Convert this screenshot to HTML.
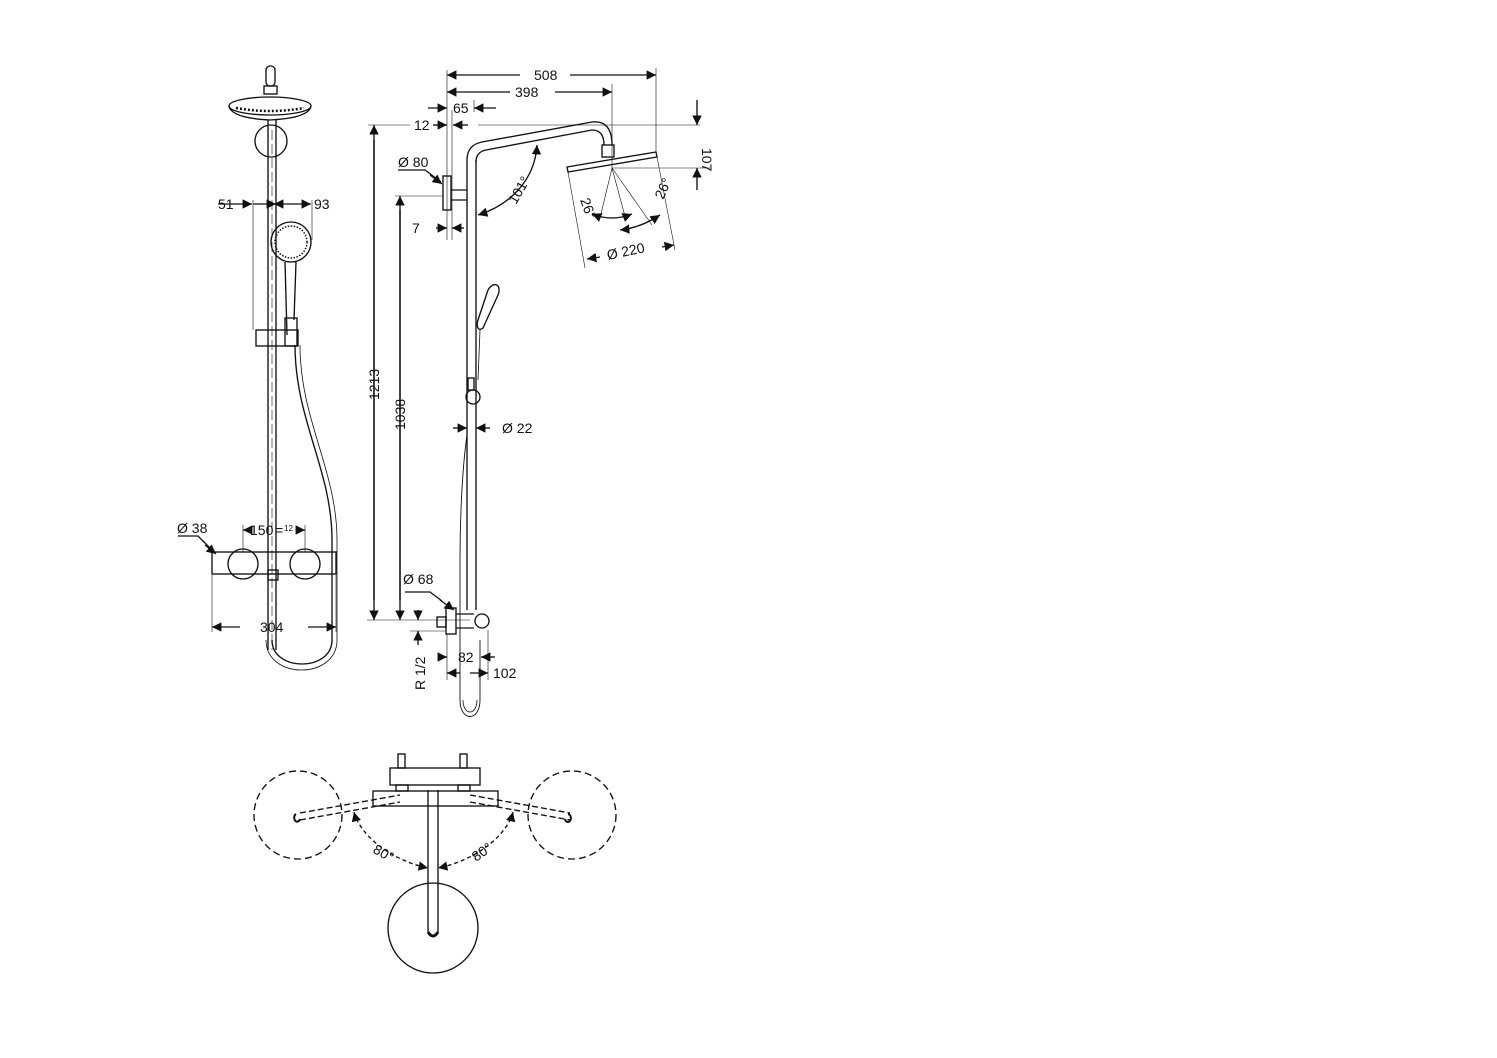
<!DOCTYPE html>
<html><head><meta charset="utf-8"><style>
html,body{margin:0;padding:0;background:#fff;}
svg{display:block}
text{font-family:"Liberation Sans",sans-serif;font-size:14px;fill:#111}
</style></head><body>
<svg width="1497" height="1058" viewBox="0 0 1497 1058" xmlns="http://www.w3.org/2000/svg">
<defs>
<marker id="a" viewBox="0 0 10 10" refX="10" refY="5" markerWidth="7" markerHeight="7" orient="auto-start-reverse"><path d="M0,0L10,5L0,10z" fill="#111"/></marker>
</defs>
<g fill="none" stroke="#111" stroke-width="1.35">
<!-- LEFT VIEW -->
<rect x="266" y="66" width="9" height="20" rx="4"/>
<rect x="264" y="86" width="13" height="8"/>
<ellipse cx="270" cy="106" rx="41" ry="9"/>
<path d="M229,106 Q231,118 270,120 Q309,118 311,106"/>
<path d="M236,108 Q270,114 304,108" stroke-dasharray="2 2" stroke-width="2.5"/>
<circle cx="271" cy="141" r="16"/>
<line x1="268" y1="120" x2="268" y2="650"/><line x1="276" y1="120" x2="276" y2="650"/>
<line x1="272" y1="130" x2="272" y2="650" stroke-dasharray="10 4" stroke-width="0.6"/>
<circle cx="291" cy="242" r="20"/><circle cx="291" cy="242" r="16" stroke-dasharray="1.5 1.5" stroke-width="1.5"/>
<path d="M285,262 L287,335 M296,262 L294,320"/>
<rect x="285" y="318" width="12" height="28"/>
<rect x="256" y="330" width="42" height="16"/>
<line x1="253" y1="200" x2="253" y2="330" stroke-width="0.6"/>
<line x1="312" y1="200" x2="312" y2="240" stroke-width="0.6"/>
<line x1="218" y1="204" x2="252" y2="204" marker-end="url(#a)"/>
<line x1="253" y1="204" x2="270" y2="204"/>
<line x1="274" y1="204" x2="276" y2="204" marker-end="url(#a)" marker-start="url(#a)"/>
<line x1="277" y1="204" x2="311" y2="204" marker-end="url(#a)"/>
<path d="M295,345 C295,420 332,470 332,540 L332,640 C332,672 272,672 272,640"/>
<path d="M300,345 C300,420 337,470 337,540 L337,640 C337,680 266,680 266,640" stroke-width="0.8"/>
<rect x="212" y="552" width="124" height="22"/>
<circle cx="243" cy="564" r="15"/><circle cx="305" cy="564" r="15"/>
<rect x="268" y="570" width="10" height="10"/>
<line x1="212" y1="575" x2="212" y2="632" stroke-width="0.6"/><line x1="336" y1="575" x2="336" y2="632" stroke-width="0.6"/>
<line x1="243" y1="525" x2="243" y2="552" stroke-width="0.6"/><line x1="305" y1="525" x2="305" y2="552" stroke-width="0.6"/>
<line x1="250" y1="530" x2="243" y2="530" marker-end="url(#a)"/><line x1="298" y1="530" x2="305" y2="530" marker-end="url(#a)"/>
<line x1="240" y1="627" x2="212" y2="627" marker-end="url(#a)"/><line x1="308" y1="627" x2="336" y2="627" marker-end="url(#a)"/>
<path d="M178,536 L198,536 L215,553" /><line x1="205" y1="545" x2="216" y2="554" marker-end="url(#a)"/>

<!-- MIDDLE VIEW -->
<line x1="467" y1="160" x2="467" y2="610"/><line x1="476" y1="160" x2="476" y2="610"/>
<path d="M467,160 Q467,145 482,142 L592,122 Q612,120 612,145"/>
<path d="M476,162 Q476,152 486,150 L592,130 Q604,130 604,145"/>
<rect x="602" y="145" width="12" height="12"/>
<path d="M567,167 L656,152 L657,157 L568,172 Z"/>
<rect x="443" y="176" width="8" height="34"/>
<path d="M451,190 L467,190 M451,200 L467,200"/>
<line x1="447" y1="70" x2="447" y2="240" stroke-width="0.6"/>
<line x1="452" y1="110" x2="452" y2="240" stroke-width="0.6"/>
<line x1="612" y1="84" x2="612" y2="170" stroke-width="0.6"/>
<line x1="656" y1="68" x2="656" y2="152" stroke-width="0.6"/>
<line x1="520" y1="75" x2="447" y2="75" marker-end="url(#a)"/><line x1="570" y1="75" x2="656" y2="75" marker-end="url(#a)"/>
<line x1="510" y1="92" x2="447" y2="92" marker-end="url(#a)"/><line x1="555" y1="92" x2="612" y2="92" marker-end="url(#a)"/>
<line x1="428" y1="108" x2="447" y2="108" marker-end="url(#a)"/><line x1="496" y1="108" x2="474" y2="108" marker-end="url(#a)"/>
<line x1="474" y1="100" x2="474" y2="112" stroke-width="0.6"/>
<line x1="368" y1="125" x2="410" y2="125" stroke-width="0.6"/><line x1="478" y1="125" x2="700" y2="125" stroke-width="0.6"/>
<line x1="433" y1="125" x2="447" y2="125" marker-end="url(#a)"/><line x1="468" y1="125" x2="453" y2="125" marker-end="url(#a)"/>
<line x1="612" y1="168" x2="710" y2="168" stroke-width="0.6"/>
<line x1="697" y1="100" x2="697" y2="125" marker-end="url(#a)"/><line x1="697" y1="190" x2="697" y2="168" marker-end="url(#a)"/>
<line x1="395" y1="196" x2="443" y2="196" stroke-width="0.6"/>
<line x1="436" y1="228" x2="447" y2="228" marker-end="url(#a)"/><line x1="464" y1="228" x2="452" y2="228" marker-end="url(#a)"/>
<path d="M398,170 L425,170 L441,182" /><line x1="430" y1="175" x2="442" y2="184" marker-end="url(#a)"/>
<path d="M478,215 C510,205 535,180 537,145" marker-start="url(#a)" marker-end="url(#a)"/>
<line x1="612" y1="168" x2="600" y2="218" stroke-width="0.6"/>
<line x1="612" y1="168" x2="626" y2="220" stroke-width="0.6"/>
<line x1="612" y1="168" x2="652" y2="225" stroke-width="0.6"/>
<line x1="568" y1="172" x2="585" y2="268" stroke-width="0.6"/>
<line x1="657" y1="157" x2="675" y2="250" stroke-width="0.6"/>
<path d="M592,214 Q612,222 632,214" marker-start="url(#a)" marker-end="url(#a)"/>
<path d="M620,230 Q640,228 660,215" marker-start="url(#a)" marker-end="url(#a)"/>
<line x1="600" y1="257" x2="587" y2="259" marker-end="url(#a)"/><line x1="662" y1="247" x2="674" y2="245" marker-end="url(#a)"/>
<line x1="374" y1="600" x2="374" y2="125" marker-end="url(#a)"/><line x1="374" y1="140" x2="374" y2="620" marker-end="url(#a)"/>
<line x1="400" y1="600" x2="400" y2="196" marker-end="url(#a)"/><line x1="400" y1="210" x2="400" y2="620" marker-end="url(#a)"/>
<line x1="367" y1="620" x2="470" y2="620" stroke-width="0.6"/>
<path d="M488,290 C494,280 502,285 498,295 L483,328 C478,332 476,326 478,320 Z"/>
<path d="M480,330 L478,380" stroke-width="0.8"/>
<rect x="468" y="378" width="6" height="12"/>
<circle cx="473" cy="397" r="7"/>
<line x1="453" y1="428" x2="467" y2="428" marker-end="url(#a)"/><line x1="490" y1="428" x2="476" y2="428" marker-end="url(#a)"/>
<path d="M467,435 C462,470 460,520 460,560 L460,700 C460,722 480,722 480,700 L480,640" stroke-width="0.9"/>
<path d="M463,700 C463,716 477,716 477,700" stroke-width="0.8"/>
<rect x="446" y="608" width="10" height="26"/>
<rect x="437" y="617" width="9" height="10"/>
<circle cx="482" cy="621" r="7"/>
<path d="M456,614 L474,614 M456,628 L474,628"/>
<line x1="440" y1="600" x2="454" y2="610" marker-end="url(#a)"/><path d="M405,592 L430,592 L442,601"/>
<line x1="418" y1="610" x2="418" y2="620" marker-end="url(#a)"/><line x1="418" y1="645" x2="418" y2="631" marker-end="url(#a)"/>
<line x1="410" y1="631" x2="445" y2="631" stroke-width="0.6"/>
<line x1="440" y1="657" x2="447" y2="657" marker-end="url(#a)"/><line x1="495" y1="657" x2="481" y2="657" marker-end="url(#a)"/>
<line x1="460" y1="673" x2="447" y2="673" marker-end="url(#a)"/><line x1="470" y1="673" x2="488" y2="673" marker-end="url(#a)"/>
<line x1="447" y1="634" x2="447" y2="680" stroke-width="0.6"/><line x1="488" y1="630" x2="488" y2="680" stroke-width="0.6"/>

<!-- BOTTOM VIEW -->
<circle cx="298" cy="815" r="44" stroke-dasharray="7 4"/>
<circle cx="572" cy="815" r="44" stroke-dasharray="7 4"/>
<circle cx="433" cy="928" r="45"/>
<rect x="390" y="768" width="90" height="17"/>
<rect x="398" y="754" width="7" height="14"/><rect x="460" y="754" width="7" height="14"/>
<rect x="396" y="785" width="12" height="6"/><rect x="458" y="785" width="12" height="6"/>
<rect x="373" y="791" width="125" height="15"/>
<line x1="428" y1="790" x2="428" y2="932"/><line x1="438" y1="790" x2="438" y2="932"/>
<path d="M428,932 Q433,940 438,932" stroke-width="3"/>
<path d="M300,813 L400,795 M300,820 L400,802 M470,795 L570,813 M470,802 L570,820" stroke-dasharray="6 3"/>
<path d="M354,812 C360,835 390,860 428,868" stroke-dasharray="4 3" marker-start="url(#a)" marker-end="url(#a)"/>
<path d="M513,812 C507,835 477,860 438,868" stroke-dasharray="4 3" marker-start="url(#a)" marker-end="url(#a)"/>
<path d="M296,814 a3,4 0 1 0 4,5 M568,814 a3,4 0 1 1 -3,5" stroke-width="2"/>
</g>
<text x="218" y="209">51</text><text x="314" y="209">93</text>
<text x="177" y="533">Ø 38</text>
<text x="250" y="535">150</text><text x="275" y="535">=</text><text x="284" y="531" style="font-size:8px">12</text>
<text x="260" y="632">304</text>
<text x="534" y="80">508</text><text x="515" y="97">398</text><text x="453" y="113">65</text>
<text x="414" y="130">12</text><text x="398" y="167">Ø 80</text><text x="412" y="233">7</text>
<text transform="translate(702,148) rotate(90)" x="0" y="0">107</text>
<text transform="translate(516,205) rotate(-60)">101°</text>
<text transform="translate(580,200) rotate(70)">26°</text>
<text transform="translate(663,200) rotate(-65)">26°</text>
<text transform="translate(608,260) rotate(-12)">Ø 220</text>
<text transform="translate(379,400) rotate(-90)">1213</text>
<text transform="translate(405,430) rotate(-90)">1038</text>
<text x="502" y="433">Ø 22</text><text x="403" y="584">Ø 68</text>
<text transform="translate(425,690) rotate(-90)">R 1/2</text>
<text x="458" y="662">82</text><text x="493" y="678">102</text>
<text transform="translate(372,852) rotate(30)">80°</text>
<text transform="translate(476,862) rotate(-35)">80°</text>
</svg>
</body></html>
